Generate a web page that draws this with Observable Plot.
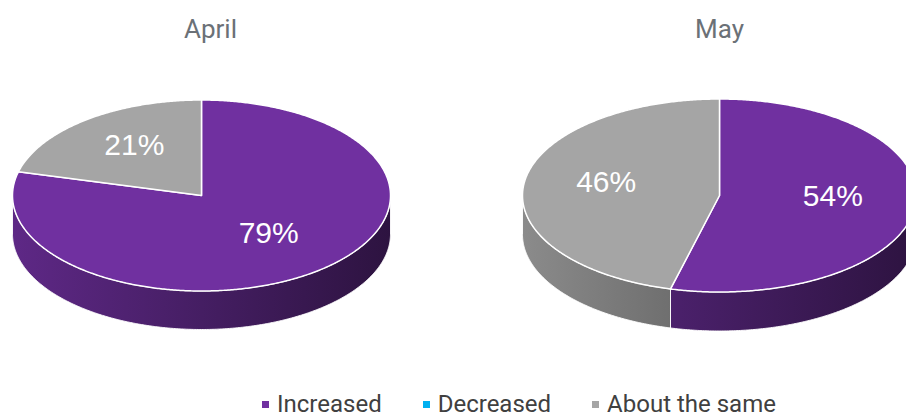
<!DOCTYPE html>
<html>
<head>
<meta charset="utf-8">
<script src="https://cdn.jsdelivr.net/npm/d3@7"></script>
<script src="https://cdn.jsdelivr.net/npm/@observablehq/plot@0.6"></script>
<style>
  html, body { margin: 0; padding: 0; background: #ffffff; }
  #chart { position: relative; width: 906px; height: 419px; overflow: hidden; background: #ffffff; }
  #chart svg { position: absolute; left: 0; top: 0; }
  #legend { position: absolute; left: 0; top: 393px; height: 22px; line-height: 22px; display: flex; align-items: center;
            padding-left: 262px; font-family: Roboto, sans-serif; font-size: 24px; color: #404040; white-space: nowrap; }
  #legend .item { display: flex; align-items: center; margin-right: 41px; }
  #legend .sw { width: 7px; height: 7px; margin-right: 8px; transform: translateY(0px); }
</style>
</head>
<body>
<div id="chart"><div id="legend"></div></div>
<script>
// ---- data ----
const months = ["April", "May"];
const categories = ["Increased", "Decreased", "About the same"];
const aprilValues = [79, 0, 21];
const mayValues = [54, 0, 46];
const categoryColors = ["#7030a0", "#00b0f0", "#a5a5a5"];

// ---- layout (pixels) ----
const W = 906, H = 419;
const pieLayout = [
  {cx: 201, cy: 195, rx: 189, ry: 95.5, depth: 38.5, tx: 210, ty: 29},
  {cx: 719, cy: 195, rx: 197, ry: 96.5, depth: 39, tx: 719, ty: 29}
];
const labelFraction = 0.58, labelShift = -6;

const pies = [aprilValues, mayValues].map((values, i) => ({
  month: months[i],
  layout: pieLayout[i],
  arcs: d3.pie().sort(null).value(d => d)(values)
}));

const STEP = Math.PI / 360;
function arcPoints(L, a0, a1, dy = 0) {
  const n = Math.max(2, Math.ceil((a1 - a0) / STEP));
  return d3.range(n + 1).map(k => {
    const a = a0 + (a1 - a0) * k / n;
    return [L.cx + L.rx * Math.sin(a), L.cy - L.ry * Math.cos(a) + dy];
  });
}

const topRows = [], sideRows = [], labelRows = [], titleRows = [];
pies.forEach((p, i) => {
  const L = p.layout;
  titleRows.push({x: L.tx, y: L.ty, text: p.month});
  p.arcs.forEach((arc, j) => {
    if (!(arc.value > 0)) return;
    const a0 = arc.startAngle, a1 = arc.endAngle;
    // top face
    const pts = [[L.cx, L.cy], ...arcPoints(L, a0, a1), [L.cx, L.cy]];
    pts.forEach(([x, y]) => topRows.push({key: `top-${i}-${j}`, x, y, fill: categoryColors[j]}));
    // front side wall
    const s = Math.max(a0, Math.PI / 2), e = Math.min(a1, 3 * Math.PI / 2);
    if (e > s) {
      const upper = arcPoints(L, s, e, 0);
      const lower = arcPoints(L, s, e, L.depth).reverse();
      [...upper, ...lower, upper[0]].forEach(([x, y]) =>
        sideRows.push({key: `side-${i}-${j}`, x, y, fill: `url(#side-${i}-${j})`}));
    }
    // label
    const mid = (a0 + a1) / 2;
    labelRows.push({
      x: L.cx + L.rx * Math.sin(mid) * labelFraction,
      y: L.cy - L.ry * Math.cos(mid) * labelFraction + labelShift,
      text: `${arc.value}%`
    });
  });
});

const plot = Plot.plot({
  width: W, height: H,
  margin: 0,
  x: {domain: [0, W], range: [0, W], axis: null},
  y: {domain: [0, H], range: [0, H], axis: null},
  color: {type: "identity"},
  style: {background: "transparent"},
  marks: [
    Plot.line(sideRows, {x: "x", y: "y", z: "key", fill: "fill", stroke: "#ffffff", strokeWidth: 1, strokeOpacity: 0.9, curve: "linear"}),
    Plot.line(topRows, {x: "x", y: "y", z: "key", fill: "fill", stroke: "#ffffff", strokeWidth: 1.5, curve: "linear"}),
    Plot.text(labelRows, {x: "x", y: "y", text: "text", fill: "#ffffff", fontSize: 30,
      fontFamily: "'Liberation Sans', Arial, sans-serif", textAnchor: "middle"}),
    Plot.text(titleRows, {x: "x", y: "y", text: "text", fill: "#6b7177", fontSize: 26,
      fontFamily: "Roboto, sans-serif", textAnchor: "middle"})
  ]
});

// side gradients (built from category colours, positioned via the x scale)
const xs = plot.scale("x");
const defs = d3.select(plot).insert("defs", ":first-child");
function shade(hex, k) { const c = d3.rgb(hex); return d3.rgb(c.r * k, c.g * k, c.b * k).formatHex(); }
pies.forEach((p, i) => {
  const L = p.layout;
  categoryColors.forEach((col, j) => {
    const g = defs.append("linearGradient")
      .attr("id", `side-${i}-${j}`)
      .attr("gradientUnits", "userSpaceOnUse")
      .attr("x1", xs.apply(L.cx - L.rx)).attr("x2", xs.apply(L.cx + L.rx))
      .attr("y1", 0).attr("y2", 0);
    g.append("stop").attr("offset", 0).attr("stop-color", shade(col, 0.84));
    g.append("stop").attr("offset", 0.5).attr("stop-color", shade(col, 0.62));
    g.append("stop").attr("offset", 1).attr("stop-color", shade(col, 0.4));
  });
});

const chart = document.getElementById("chart");
chart.insertBefore(plot, chart.firstChild);

// legend
const legend = d3.select("#legend");
categories.forEach((c, j) => {
  const item = legend.append("div").attr("class", "item");
  item.append("div").attr("class", "sw").style("background", categoryColors[j]);
  item.append("span").text(c);
});
</script>
</body>
</html>
